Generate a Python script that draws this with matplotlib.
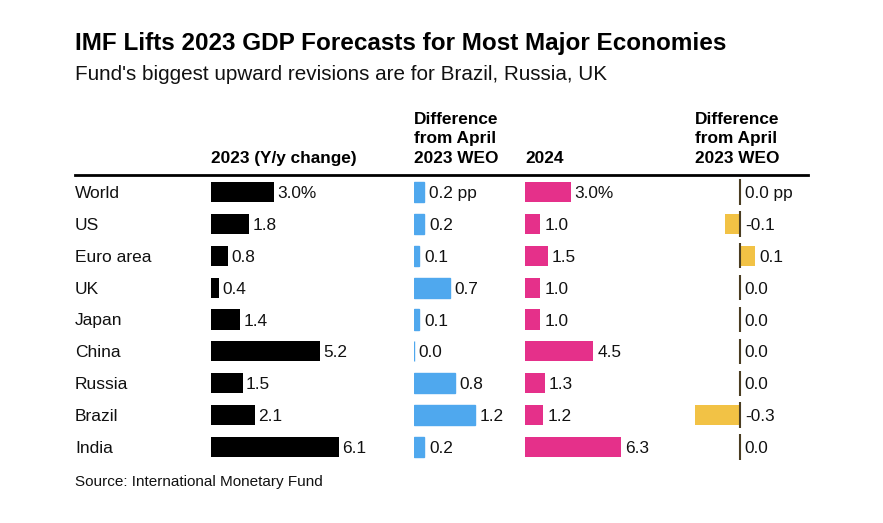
import matplotlib
matplotlib.use("Agg")
import matplotlib.pyplot as plt

plt.rcParams['font.family'] = ['Liberation Sans', 'DejaVu Sans']

countries = ["World", "US", "Euro area", "UK", "Japan", "China", "Russia", "Brazil", "India"]
gdp_2023 = [3.0, 1.8, 0.8, 0.4, 1.4, 5.2, 1.5, 2.1, 6.1]
diff_2023 = [0.2, 0.2, 0.1, 0.7, 0.1, 0.0, 0.8, 1.2, 0.2]
gdp_2024 = [3.0, 1.0, 1.5, 1.0, 1.0, 4.5, 1.3, 1.2, 6.3]
diff_2024 = [0.0, -0.1, 0.1, 0.0, 0.0, 0.0, 0.0, -0.3, 0.0]

W, H = 883, 523
fig = plt.figure(figsize=(W / 100, H / 100), dpi=100)
fig.patch.set_facecolor("white")


def fx(x):
    return x / W


def fy(y):
    return 1 - y / H


TOP, BOT = 176, 463


def make_ax(left_px, width_px, xlim):
    ax = fig.add_axes([fx(left_px), fy(BOT), width_px / W, (BOT - TOP) / H])
    ax.set_xlim(*xlim)
    ax.set_ylim(len(countries) - 0.5, -0.5)
    ax.axis("off")
    return ax


bar_h = 0.63
ypos = list(range(len(countries)))
val_fs = 12.4
txt_col = "#111111"

# Column 1: 2023
ax1 = make_ax(211, 147, (0, 7))
ax1.barh(ypos, gdp_2023, height=bar_h, color="#000000")
for i, v in enumerate(gdp_2023):
    lab = f"{v:.1f}%" if i == 0 else f"{v:.1f}"
    ax1.annotate(lab, (v, i), xytext=(2.5, 0), textcoords="offset points",
                 va="center_baseline", ha="left", fontsize=val_fs, color=txt_col)

# Column 2: difference 2023
ax2 = make_ax(414, 102, (0, 2))
ax2.barh(ypos, diff_2023, height=bar_h, color="#4FA8EE", edgecolor="#4FA8EE", linewidth=1)
for i, v in enumerate(diff_2023):
    lab = f"{v:.1f} pp" if i == 0 else f"{v:.1f}"
    ax2.annotate(lab, (v, i), xytext=(3.5, 0), textcoords="offset points",
                 va="center_baseline", ha="left", fontsize=val_fs, color=txt_col)

# Column 3: 2024
ax3 = make_ax(525, 106.4, (0, 7))
ax3.barh(ypos, gdp_2024, height=bar_h, color="#E5308A")
for i, v in enumerate(gdp_2024):
    lab = f"{v:.1f}%" if i == 0 else f"{v:.1f}"
    ax3.annotate(lab, (v, i), xytext=(3, 0), textcoords="offset points",
                 va="center_baseline", ha="left", fontsize=val_fs, color=txt_col)

# Column 4: difference 2024
ax4 = make_ax(680, 120, (-0.4, 0.4))
ax4.barh(ypos, diff_2024, height=bar_h, color="#F2C245")
for i, v in enumerate(diff_2024):
    ax4.vlines(0, i - 0.4, i + 0.4, color="#4A3D22", linewidth=1.5)
    lab = f"{v:.1f} pp" if i == 0 else f"{v:.1f}"
    ax4.annotate(lab, (max(v, 0), i), xytext=(3.5, 0), textcoords="offset points",
                 va="center_baseline", ha="left", fontsize=val_fs, color=txt_col)

# Row labels
for i, c in enumerate(countries):
    yc = TOP + (i + 0.5) * (BOT - TOP) / len(countries)
    fig.text(fx(75), fy(yc), c, fontsize=12.5, va="center_baseline", ha="left", color=txt_col)

# Title and subtitle
fig.text(fx(75), fy(50), "IMF Lifts 2023 GDP Forecasts for Most Major Economies",
         fontsize=17.5, fontweight="bold", va="baseline", ha="left", color="#000000")
fig.text(fx(75), fy(80), "Fund's biggest upward revisions are for Brazil, Russia, UK",
         fontsize=14.9, va="baseline", ha="left", color=txt_col)

# Headers
hdr_fs = 12.4
fig.text(fx(211), fy(163), "2023 (Y/y change)", fontsize=hdr_fs, fontweight="bold",
         va="baseline", ha="left")
fig.text(fx(414), fy(163), "Difference\nfrom April\n2023 WEO", fontsize=hdr_fs, fontweight="bold",
         va="baseline", ha="left", linespacing=1.38)
fig.text(fx(525), fy(163), "2024", fontsize=hdr_fs, fontweight="bold",
         va="baseline", ha="left")
fig.text(fx(695), fy(163), "Difference\nfrom April\n2023 WEO", fontsize=hdr_fs, fontweight="bold",
         va="baseline", ha="left", linespacing=1.38)

# Divider line
fig.add_artist(plt.Line2D([fx(75), fx(808)], [fy(175), fy(175)], color="#000000",
                          linewidth=2, transform=fig.transFigure))

# Source
fig.text(fx(75), fy(486), "Source: International Monetary Fund", fontsize=11,
         va="baseline", ha="left", color=txt_col)

fig.savefig("out.png", dpi=100, facecolor="white")
